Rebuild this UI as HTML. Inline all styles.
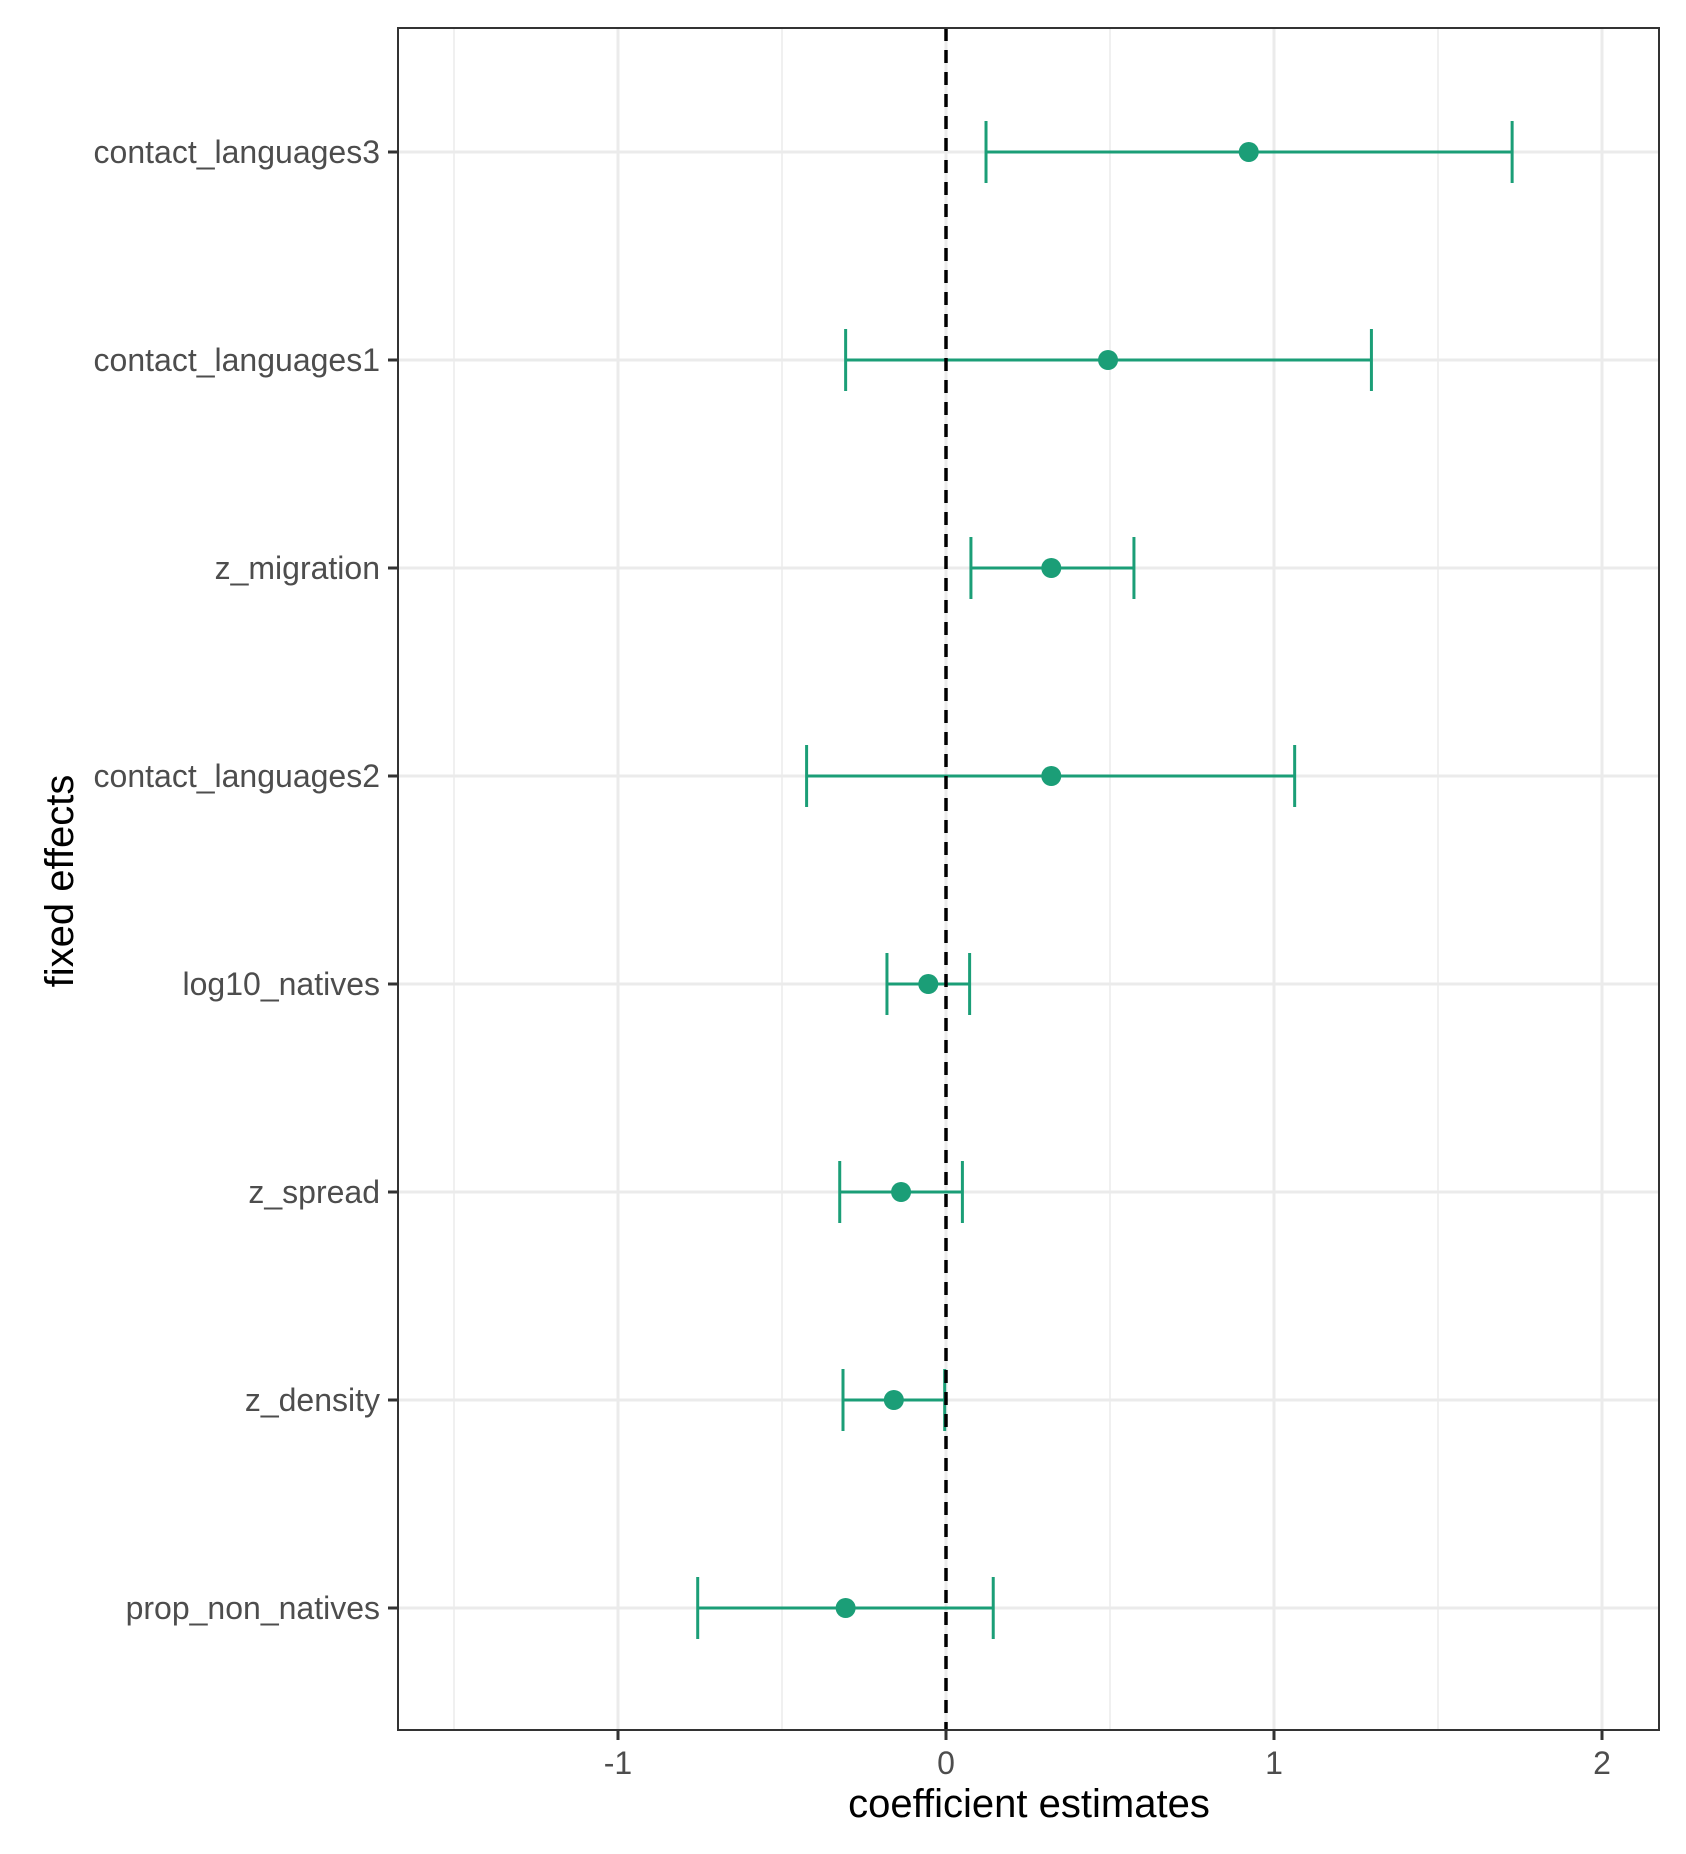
<!DOCTYPE html>
<html><head><meta charset="utf-8"><style>body{margin:0;background:#fff}svg{display:block}</style></head>
<body>
<svg id="c" width="1686" height="1854" xmlns="http://www.w3.org/2000/svg" font-family="Liberation Sans, sans-serif"></svg>
<script>
const terms=["contact_languages3","contact_languages1","z_migration","contact_languages2","log10_natives","z_spread","z_density","prop_non_natives"];
const estimates=[0.923,0.494,0.321,0.321,-0.054,-0.137,-0.159,-0.306];
const lower=[0.122,-0.306,0.076,-0.425,-0.18,-0.324,-0.314,-0.757];
const upper=[1.726,1.297,0.573,1.063,0.072,0.05,-0.004,0.144];
const xTicks=[-1,0,1,2];
const xTickLabels=["-1","0","1","2"];
const xMinor=[-1.5,-0.5,0.5,1.5];
const svg=document.getElementById('c');
const NS="http://www.w3.org/2000/svg";
const L=398,R=1659,T=28,B=1730;
const xs=v=>946+328*v;
const ys=i=>152+208*i;
function mk(tag,a,p){const e=document.createElementNS(NS,tag);for(const k in a)e.setAttribute(k,a[k]);(p||svg).appendChild(e);return e;}
let e;
e=mk('rect',{x:L,y:T,width:R-L,height:B-T,fill:'#fff'});


xMinor.forEach(v=>{e=mk('line',{x1:xs(v),x2:xs(v),y1:T,y2:B,stroke:'#ebebeb','stroke-width':1.5});

});
xTicks.forEach(v=>{e=mk('line',{x1:xs(v),x2:xs(v),y1:T,y2:B,stroke:'#ebebeb','stroke-width':3});

});
terms.forEach((t,i)=>{e=mk('line',{x1:L,x2:R,y1:ys(i),y2:ys(i),stroke:'#ebebeb','stroke-width':3});

});
terms.forEach((t,i)=>{
 const y=ys(i),c='#1b9e77';
 const g=mk('g',{});
 
 
 mk('line',{x1:xs(lower[i]),x2:xs(upper[i]),y1:y,y2:y,stroke:c,'stroke-width':3},g);
 mk('line',{x1:xs(lower[i]),x2:xs(lower[i]),y1:y-31,y2:y+31,stroke:c,'stroke-width':3},g);
 mk('line',{x1:xs(upper[i]),x2:xs(upper[i]),y1:y-31,y2:y+31,stroke:c,'stroke-width':3},g);
});
e=mk('line',{x1:xs(0),x2:xs(0),y1:T,y2:B,stroke:'#000','stroke-width':3.5,'stroke-dasharray':'13,9'});


terms.forEach((t,i)=>{e=mk('circle',{cx:xs(estimates[i]),cy:ys(i),r:10,fill:'#1b9e77'});

});
e=mk('rect',{x:L,y:T,width:R-L,height:B-T,fill:'none',stroke:'#333','stroke-width':2});


terms.forEach((t,i)=>{
 mk('line',{x1:388,x2:L,y1:ys(i),y2:ys(i),stroke:'#333','stroke-width':3});
 e=mk('text',{x:380,y:ys(i)+11,'text-anchor':'end','font-size':32,fill:'#4d4d4d'});e.textContent=t;
 
 
});
xTicks.forEach((v,i)=>{
 mk('line',{x1:xs(v),x2:xs(v),y1:B,y2:B+10,stroke:'#333','stroke-width':3});
 e=mk('text',{x:xs(v),y:B+44,'text-anchor':'middle','font-size':32,fill:'#4d4d4d'});e.textContent=xTickLabels[i];
 
 
});
e=mk('text',{x:1029,y:1817,'text-anchor':'middle','font-size':40,fill:'#000'});e.textContent='coefficient estimates';


e=mk('text',{x:0,y:0,'text-anchor':'middle','font-size':40,fill:'#000',transform:'translate(73,881) rotate(-90)'});e.textContent='fixed effects';


</script>
</body></html>
